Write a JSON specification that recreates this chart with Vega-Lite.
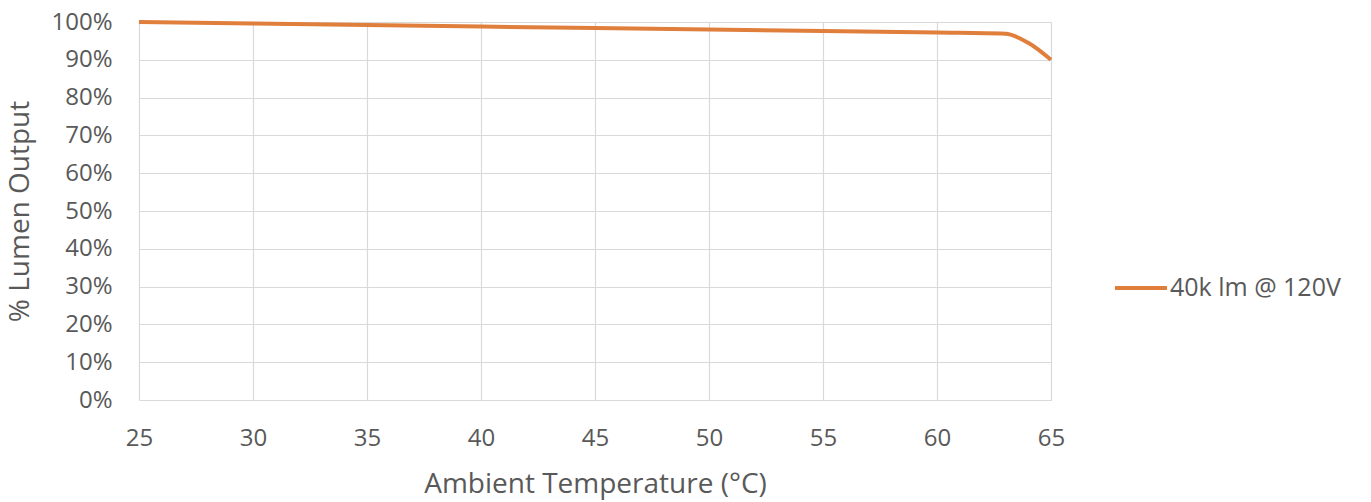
{
  "$schema": "https://vega.github.io/schema/vega-lite/v6.json",
  "autosize": "none",
  "width": 912,
  "height": 378,
  "padding": {"left": 139, "top": 22, "right": 320, "bottom": 102},
  "background": "white",
  "config": {
    "view": {"stroke": null},
    "font": "Open Sans",
    "axis": {
      "labelFont": "Open Sans", "titleFont": "Open Sans",
      "labelColor": "#595959", "titleColor": "#595959",
      "labelFontSize": 24, "titleFontSize": 28, "titleFontWeight": "normal",
      "gridColor": "#d9d9d9", "gridWidth": 1.2, "domain": false, "ticks": false
    }
  },
  "data": {"values": [
    {"temp": 25, "lumen": 1.0, "series": "40k lm @ 120V"},
    {"temp": 30, "lumen": 0.996, "series": "40k lm @ 120V"},
    {"temp": 35, "lumen": 0.992, "series": "40k lm @ 120V"},
    {"temp": 40, "lumen": 0.988, "series": "40k lm @ 120V"},
    {"temp": 45, "lumen": 0.984, "series": "40k lm @ 120V"},
    {"temp": 50, "lumen": 0.980, "series": "40k lm @ 120V"},
    {"temp": 55, "lumen": 0.976, "series": "40k lm @ 120V"},
    {"temp": 60, "lumen": 0.972, "series": "40k lm @ 120V"},
    {"temp": 63, "lumen": 0.969, "series": "40k lm @ 120V"},
    {"temp": 64, "lumen": 0.945, "series": "40k lm @ 120V"},
    {"temp": 65, "lumen": 0.900, "series": "40k lm @ 120V"}
  ]},
  "mark": {"type": "line", "strokeWidth": 4, "interpolate": "monotone"},
  "encoding": {
    "x": {
      "field": "temp", "type": "quantitative",
      "scale": {"domain": [25, 65], "nice": false, "zero": false},
      "axis": {"values": [25, 30, 35, 40, 45, 50, 55, 60, 65], "title": "Ambient Temperature (°C)", "labelFlush": false, "labelPadding": 26, "titlePadding": 20}
    },
    "y": {
      "field": "lumen", "type": "quantitative",
      "scale": {"domain": [0, 1], "nice": false},
      "axis": {"values": [0, 0.1, 0.2, 0.3, 0.4, 0.5, 0.6, 0.7, 0.8, 0.9, 1.0], "format": ".0%", "title": "% Lumen Output", "labelPadding": 27, "titlePadding": 16}
    },
    "color": {
      "field": "series", "type": "nominal",
      "scale": {"range": ["#E07E3C"]},
      "legend": {
        "title": null, "orient": "none", "legendX": 974, "legendY": 238,
        "symbolType": "stroke", "symbolSize": 2700, "symbolStrokeWidth": 4,
        "labelFontSize": 25, "labelFont": "Open Sans", "labelColor": "#595959", "labelOffset": 1, "labelLimit": 400
      }
    }
  }
}
